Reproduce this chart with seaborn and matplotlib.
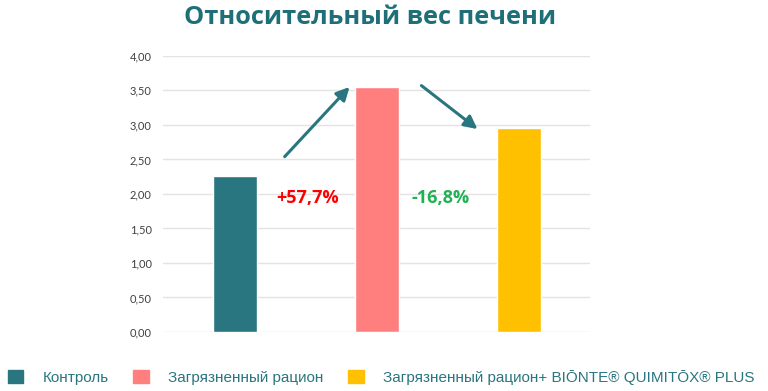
import matplotlib
matplotlib.use("Agg")
import matplotlib.pyplot as plt
import matplotlib.patches as mpatches
import seaborn as sns
import pandas as pd

categories = ["Контроль", "Загрязненный рацион", "Загрязненный рацион+ BIŌNTE® QUIMITŌX® PLUS"]
values = [2.26, 3.55, 2.96]
colors = ["#2a7680", "#ff7f7f", "#ffc000"]
changes = ["+57,7%", "-16,8%"]
yticks = [0.0, 0.5, 1.0, 1.5, 2.0, 2.5, 3.0, 3.5, 4.0]

sns.set_theme(style="white")
plt.rcParams['font.family'] = ['DejaVu Sans']

fig = plt.figure(figsize=(7.68, 3.91), dpi=100)
ax = fig.add_axes([0.212, 0.151, 0.556, 0.706])

df = pd.DataFrame({"cat": categories, "val": values})
sns.barplot(data=df, x="cat", y="val", hue="cat", palette=colors, width=0.31,
            legend=False, ax=ax, saturation=1)

ax.set_xlim(-0.51, 2.5)
ax.set_ylim(0, 4.0)
ax.set_yticks(yticks)
ax.set_yticklabels([f"{t:.2f}".replace(".", ",") for t in yticks], fontsize=8, color="#404040",
                   family=["Lato", "DejaVu Sans"])
ax.set_xticks([])
ax.set_xlabel("")
ax.set_ylabel("")
ax.grid(axis="y", color="#e3e3e3", linewidth=1)
ax.set_axisbelow(True)
for s in ax.spines.values():
    s.set_visible(False)
ax.tick_params(axis="y", length=0, pad=8)

# arrows
arrow_kw = dict(arrowstyle="-|>,head_length=0.65,head_width=0.33", color="#2a7680", lw=2.2,
                shrinkA=0, shrinkB=0)
ax.annotate("", xy=(0.806, 3.55), xytext=(0.349, 2.54), arrowprops=arrow_kw)
ax.annotate("", xy=(1.708, 2.94), xytext=(1.313, 3.57), arrowprops=arrow_kw)

ax.text(0.51, 1.94, changes[0], color="#ff0000", fontsize=13, fontweight="bold",
        ha="center", va="center", family=["Open Sans", "DejaVu Sans"])
ax.text(1.447, 1.94, changes[1], color="#1fb152", fontsize=13, fontweight="bold",
        ha="center", va="center", family=["Open Sans", "DejaVu Sans"])

fig.text(0.482, 0.955, "Относительный вес печени", color="#1e6f78", fontsize=18.3, fontweight="bold",
         ha="center", va="center", family=["Open Sans", "DejaVu Sans"])

handles = [mpatches.Patch(color=c, label=l) for c, l in zip(colors, categories)]
leg = fig.legend(handles=handles, loc="center left", bbox_to_anchor=(-0.008, 0.035), ncol=3,
                 frameon=False, handlelength=1.0, handleheight=1.0, handletextpad=1.3,
                 columnspacing=1.6, prop={"family": ["Liberation Sans", "DejaVu Sans"], "size": 11})
for t in leg.get_texts():
    t.set_color("#2a7680")

fig.savefig("out.png", dpi=100)
